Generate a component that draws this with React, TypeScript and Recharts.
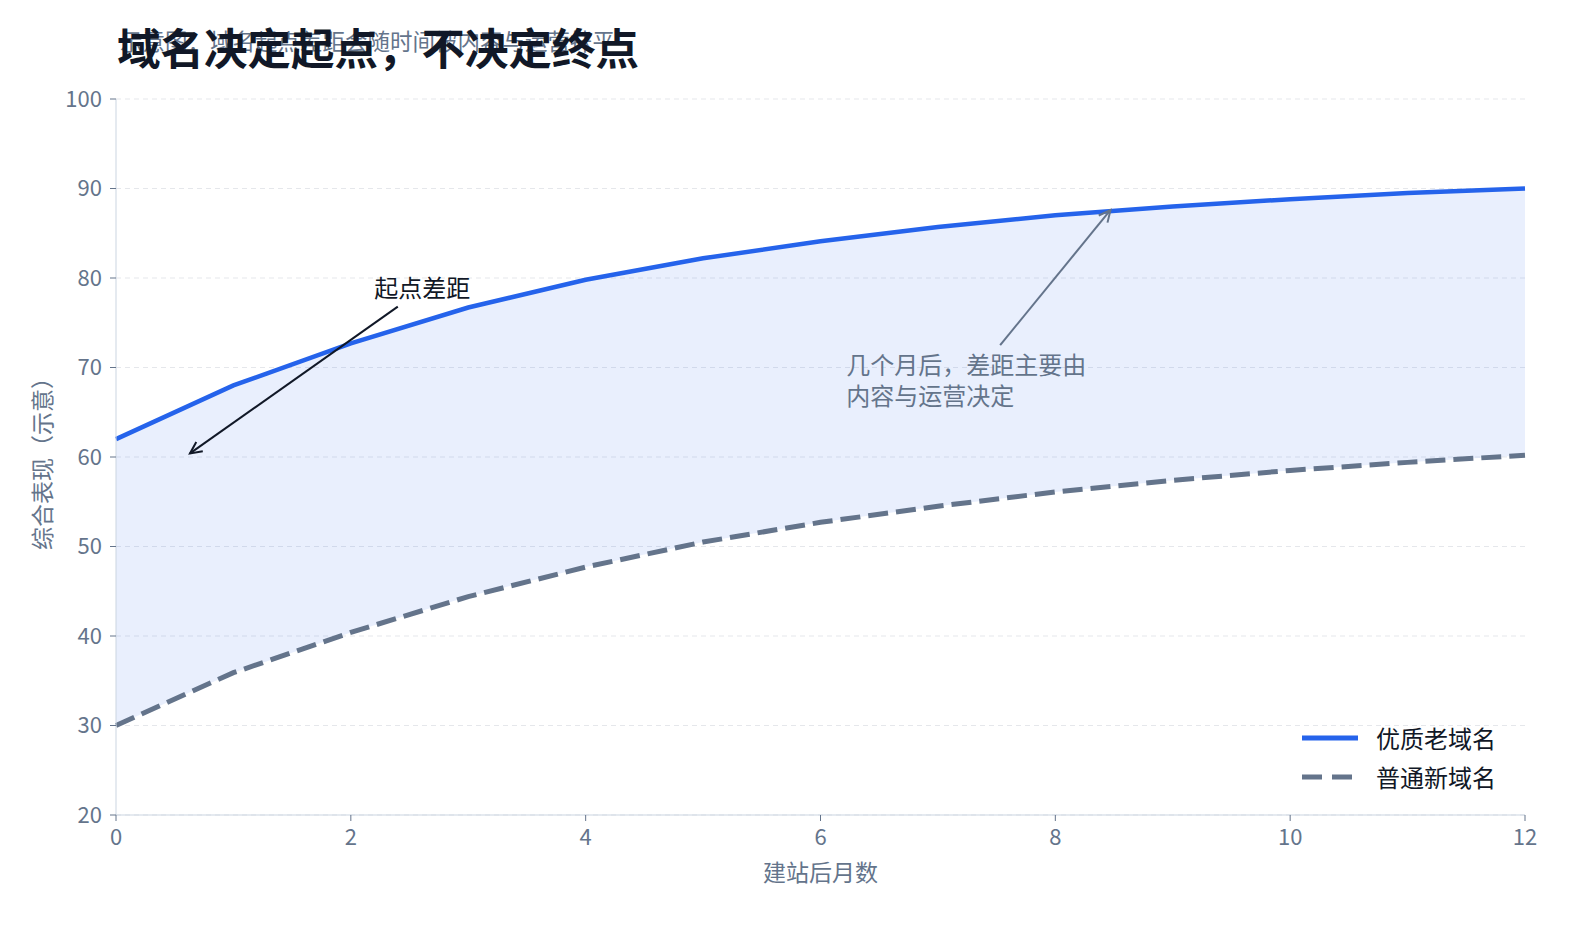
import React from "react";
import {
  Area,
  CartesianGrid,
  ComposedChart,
  Label,
  Legend,
  Line,
  ReferenceDot,
  ReferenceLine,
  XAxis,
  YAxis,
} from "recharts";

const months = [0, 1, 2, 3, 4, 5, 6, 7, 8, 9, 10, 11, 12];
const premiumOld = [62, 68, 72.7, 76.7, 79.8, 82.2, 84.1, 85.7, 87, 88, 88.8, 89.5, 90];
const ordinaryNew = [30, 35.9, 40.4, 44.4, 47.7, 50.5, 52.7, 54.5, 56.1, 57.4, 58.5, 59.4, 60.2];
const xTicks = [0, 2, 4, 6, 8, 10, 12];
const yTicks = [20, 30, 40, 50, 60, 70, 80, 90, 100];

const FONT = '"Noto Sans CJK SC", "Noto Sans", sans-serif';
const BLUE = "#2563eb";
const SLATE = "#64748b";
const INK = "#111827";

const data = months.map((m, i) => ({
  month: m,
  old: premiumOld[i],
  fresh: ordinaryNew[i],
}));

const legendItems = [
  { name: "优质老域名", color: BLUE, dash: undefined as string | undefined },
  { name: "普通新域名", color: SLATE, dash: "20 10" },
];

// straight line with an open "->" style head at the target end
const arrowShape = (color: string) => (props: any) => {
  const { x1, y1, x2, y2 } = props;
  const ang = Math.atan2(y2 - y1, x2 - x1);
  const len = 13;
  const spread = 0.45;
  const ax = x2 - len * Math.cos(ang - spread);
  const ay = y2 - len * Math.sin(ang - spread);
  const bx = x2 - len * Math.cos(ang + spread);
  const by = y2 - len * Math.sin(ang + spread);
  return (
    <g>
      <line x1={x1} y1={y1} x2={x2} y2={y2} stroke={color} strokeWidth={2} />
      <path
        d={`M${ax},${ay} L${x2},${y2} L${bx},${by}`}
        fill="none"
        stroke={color}
        strokeWidth={2}
      />
    </g>
  );
};

const LegendBox = () => (
  <div style={{ fontFamily: FONT, fontSize: 24, color: INK }}>
    {legendItems.map((it) => (
      <div key={it.name} style={{ display: "flex", alignItems: "center", height: 39 }}>
        <svg width={60} height={10} style={{ marginRight: 16 }}>
          <line
            x1={2}
            y1={5}
            x2={58}
            y2={5}
            stroke={it.color}
            strokeWidth={5}
            strokeDasharray={it.dash}
          />
        </svg>
        <span>{it.name}</span>
      </div>
    ))}
  </div>
);

export default function App() {
  return (
    <div
      style={{
        position: "absolute",
        left: 0,
        top: 0,
        width: 1596,
        height: 931,
        background: "#ffffff",
        fontFamily: FONT,
      }}
    >
      <div
        style={{
          position: "absolute",
          left: 120,
          top: 29,
          fontSize: 22.5,
          lineHeight: "23px",
          color: SLATE,
          whiteSpace: "nowrap",
        }}
      >
        示意图：域名起点差距会随时间被内容与运营抹平
      </div>
      <div
        style={{
          position: "absolute",
          left: 117,
          top: 25,
          fontSize: 43.5,
          lineHeight: "44px",
          fontWeight: 700,
          color: INK,
          whiteSpace: "nowrap",
        }}
      >
        域名决定起点，不决定终点
      </div>
      <ComposedChart
        width={1596}
        height={931}
        data={data}
        margin={{ top: 99, right: 71, bottom: 76, left: 56 }}
      >
        <CartesianGrid vertical={false} stroke="#e5e7eb" strokeDasharray="5 4" />
        <XAxis
          dataKey="month"
          type="number"
          domain={[0, 12]}
          ticks={xTicks}
          height={40}
          tickMargin={8}
          tick={{ fill: SLATE, fontSize: 22, fontFamily: FONT }}
          axisLine={{ stroke: "#cbd5e1" }}
          tickLine={{ stroke: SLATE }}
        >
          <Label
            value="建站后月数"
            position="bottom"
            offset={10}
            style={{ fill: SLATE, fontSize: 23, fontFamily: FONT }}
          />
        </XAxis>
        <YAxis
          type="number"
          domain={[20, 100]}
          ticks={yTicks}
          width={60}
          tickMargin={8}
          tick={{ fill: SLATE, fontSize: 22, fontFamily: FONT }}
          axisLine={{ stroke: "#cbd5e1" }}
          tickLine={{ stroke: SLATE }}
        >
          <Label
            content={({ viewBox }: any) => {
              const cx = viewBox.x - 15;
              const cy = viewBox.y + viewBox.height / 2 + 1;
              return (
                <text
                  x={cx}
                  y={cy}
                  transform={`rotate(-90 ${cx} ${cy})`}
                  textAnchor="middle"
                  dominantBaseline="central"
                  fill={SLATE}
                  fontSize={23}
                  fontFamily={FONT}
                >
                  综合表现（示意）
                </text>
              );
            }}
          />
        </YAxis>
        <Area
          dataKey={(d: any) => [d.fresh, d.old]}
          type="linear"
          stroke="none"
          fill={BLUE}
          fillOpacity={0.1}
          isAnimationActive={false}
          legendType="none"
        />
        <Line
          dataKey="old"
          name="优质老域名"
          type="linear"
          stroke={BLUE}
          strokeWidth={4.5}
          dot={false}
          activeDot={false}
          isAnimationActive={false}
        />
        <Line
          dataKey="fresh"
          name="普通新域名"
          type="linear"
          stroke={SLATE}
          strokeWidth={5}
          strokeDasharray="20 8"
          dot={false}
          activeDot={false}
          isAnimationActive={false}
        />
        <ReferenceLine
          segment={[
            { x: 2.4, y: 76.8 },
            { x: 0.63, y: 60.4 },
          ]}
          shape={arrowShape(INK)}
        />
        <ReferenceLine
          segment={[
            { x: 7.53, y: 72.5 },
            { x: 8.47, y: 87.6 },
          ]}
          shape={arrowShape(SLATE)}
        />
        <ReferenceDot
          x={2.2}
          y={77.9}
          r={0}
          shape={(p: any) => (
            <text x={p.cx} y={p.cy} fill={INK} fontSize={24} fontFamily={FONT}>
              起点差距
            </text>
          )}
        />
        <ReferenceDot
          x={6.22}
          y={69.3}
          r={0}
          shape={(p: any) => (
            <g>
              <text x={p.cx} y={p.cy} fill={SLATE} fontSize={24} fontFamily={FONT}>
                几个月后，差距主要由
              </text>
              <text x={p.cx} y={p.cy + 31} fill={SLATE} fontSize={24} fontFamily={FONT}>
                内容与运营决定
              </text>
            </g>
          )}
        />
        <Legend
          layout="vertical"
          align="center"
          verticalAlign="middle"
          wrapperStyle={{ left: 1300, top: 718, width: 240 }}
          content={() => <LegendBox />}
        />
      </ComposedChart>
    </div>
  );
}
